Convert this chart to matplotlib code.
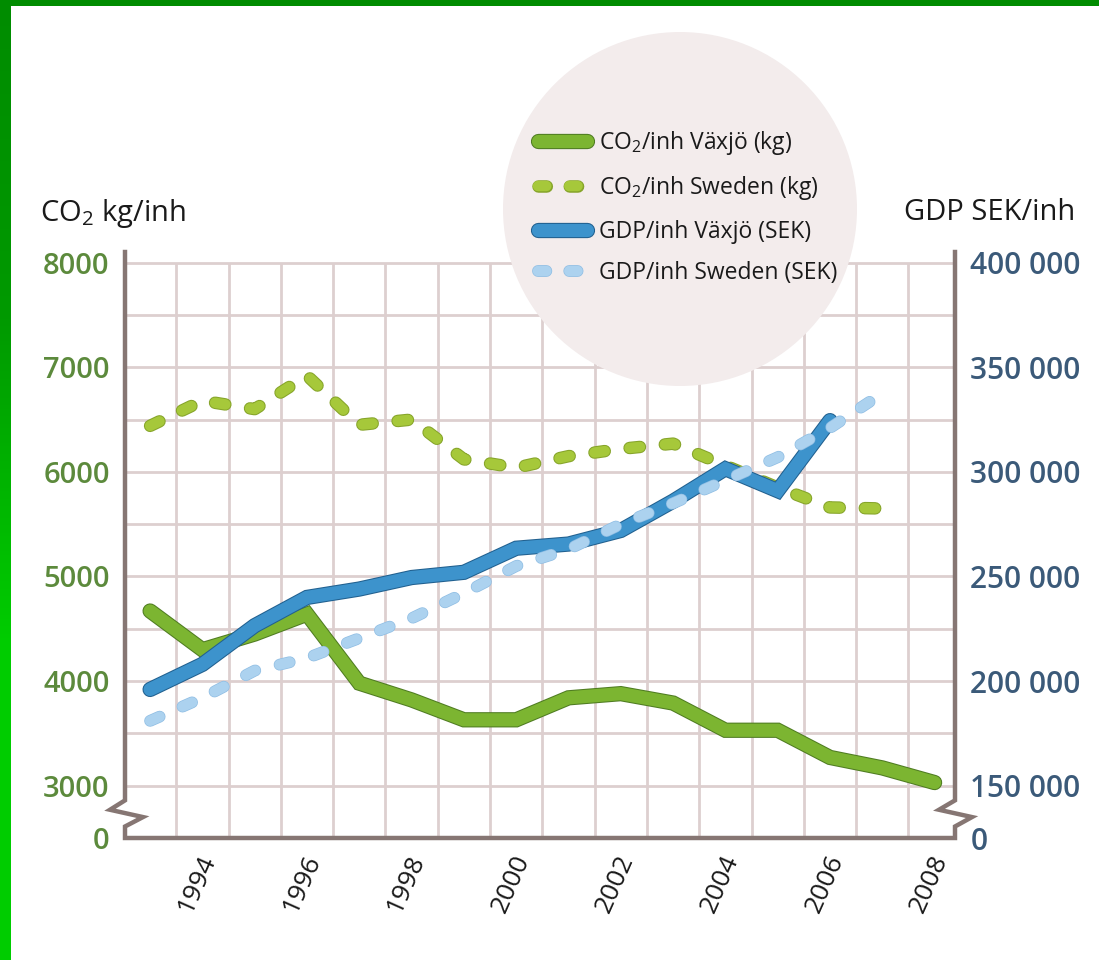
import numpy as np
import matplotlib
matplotlib.use("Agg")
import matplotlib.pyplot as plt
import matplotlib.transforms as mtrans
from matplotlib import patheffects as pe
from matplotlib.patches import Ellipse
from matplotlib.lines import Line2D
from matplotlib.colors import LinearSegmentedColormap

# ---------------- data ----------------
years_co2_vaxjo = list(range(1993, 2009))
co2_vaxjo = [4670, 4300, 4450, 4640, 3980, 3820, 3630, 3630, 3840, 3880,
             3790, 3530, 3530, 3270, 3170, 3030]

years_co2_sweden = list(range(1993, 2008))
co2_sweden = [6440, 6680, 6600, 6920, 6450, 6500, 6120, 6040, 6150, 6220,
              6270, 6060, 5850, 5660, 5650]

years_gdp_vaxjo = list(range(1993, 2007))
gdp_vaxjo = [196000, 208000, 226500, 240000, 244000, 249500, 252000, 263500,
             265500, 272000, 286000, 301500, 291000, 324500]

years_gdp_sweden = list(range(1993, 2008))
gdp_sweden = [181000, 192000, 205000, 211000, 220500, 230000, 242000, 255000,
              263000, 275000, 285000, 296000, 307000, 321000, 337500]

left_ticks = [2500, 3000, 4000, 5000, 6000, 7000, 8000]
left_ticklabels = ["0", "3000", "4000", "5000", "6000", "7000", "8000"]
right_ticks = [125000, 150000, 200000, 250000, 300000, 350000, 400000]
right_ticklabels = ["0", "150 000", "200 000", "250 000", "300 000", "350 000", "400 000"]
year_ticks = [1994, 1996, 1998, 2000, 2002, 2004, 2006, 2008]

labels = ["CO$_\\mathregular{2}$/inh Växjö (kg)",
          "CO$_\\mathregular{2}$/inh Sweden (kg)",
          "GDP/inh Växjö (SEK)",
          "GDP/inh Sweden (SEK)"]

# ---------------- style ----------------
plt.rcParams["font.family"] = ["Open Sans", "DejaVu Sans"]
plt.rcParams["mathtext.fontset"] = "custom"
plt.rcParams["mathtext.rm"] = "Open Sans"
plt.rcParams["mathtext.it"] = "Open Sans"

W, H = 1099, 960
fig = plt.figure(figsize=(W / 100, H / 100), dpi=100)
fig.patch.set_facecolor("white")

c_green = "#7cb531"
c_green_edge = "#4f7c22"
c_green_d = "#a6c83a"
c_green_d_edge = "#86a42a"
c_blue = "#3d93cc"
c_blue_edge = "#21608f"
c_lblue = "#acd2ef"
c_lblue_edge = "#8fbde3"
grid_c = "#ddcfcf"
spine_c = "#867673"

ax = fig.add_axes([125 / W, 122 / H, 830 / W, 586 / H])
ax.set_xlim(1992.52, 2008.39)
ax.set_ylim(2500, 8102)
ax2 = ax.twinx()
ax2.set_ylim(125000, 405100)

for a in (ax, ax2):
    for s in a.spines.values():
        s.set_visible(False)
    a.patch.set_visible(False)

# grid
ax.hlines(np.arange(3000, 8001, 500), 1992.52, 2008.39, color=grid_c, lw=2.0, zorder=1)
ax.vlines(np.arange(1993.5, 2008, 1.0), 2500, 8000, color=grid_c, lw=2.0, zorder=1)

# legend circle (background bubble)
circ = Ellipse((680 / W, 1 - 209 / H), 2 * 177 / W, 2 * 177 / H,
               transform=fig.transFigure, facecolor="#f3ecec", edgecolor="none",
               zorder=1.5, clip_on=False)
ax.add_artist(circ)

# spines with break marks (decoration)
tr = ax.get_yaxis_transform()
dx = 1.0 / 830
spine = Line2D([0, 0, -15 * dx, 18 * dx, 0, 0, 1, 1, 1 + 17 * dx, 1 - 16 * dx, 1, 1],
               [8102, 2860, 2770, 2700, 2610, 2500, 2500, 2610, 2700, 2770, 2860, 8102],
               transform=tr, color=spine_c, lw=3.2, solid_joinstyle="miter",
               clip_on=False, zorder=5)
ax.add_line(spine)

# lines
ax.plot(years_co2_sweden, co2_sweden, color=c_green_d, lw=7.5,
        dashes=(1.0, 2.4), dash_capstyle="round", zorder=3,
        path_effects=[pe.Stroke(linewidth=9, foreground=c_green_d_edge), pe.Normal()])
ax.plot(years_co2_vaxjo, co2_vaxjo, color=c_green, lw=9.5,
        solid_capstyle="round", solid_joinstyle="miter", zorder=4,
        path_effects=[pe.Stroke(linewidth=11, foreground=c_green_edge), pe.Normal()])
ax2.plot(years_gdp_vaxjo, gdp_vaxjo, color=c_blue, lw=9.5,
         solid_capstyle="round", solid_joinstyle="miter", zorder=4,
         path_effects=[pe.Stroke(linewidth=11, foreground=c_blue_edge), pe.Normal()])
ax2.plot(years_gdp_sweden, gdp_sweden, color=c_lblue, lw=7.5,
         dashes=(1.0, 2.4), dash_capstyle="round", zorder=5,
         path_effects=[pe.Stroke(linewidth=8.5, foreground=c_lblue_edge), pe.Normal()])

# ticks
ax.set_yticks(left_ticks)
ax.set_yticklabels(left_ticklabels)
ax.tick_params(axis="y", length=0, pad=11, labelsize=21, labelcolor="#5c8a3c")
for t in ax.get_yticklabels():
    t.set_fontweight("semibold")
ax2.set_yticks(right_ticks)
ax2.set_yticklabels(right_ticklabels)
ax2.tick_params(axis="y", length=0, pad=11, labelsize=21.5, labelcolor="#3b5a79")
for t in ax2.get_yticklabels():
    t.set_fontweight("semibold")

ax.set_xticks(year_ticks)
ax.set_xticklabels([str(y) for y in year_ticks], rotation=66, ha="right",
                   va="center", rotation_mode="anchor")
ax.tick_params(axis="x", length=0, pad=13, labelsize=19, labelcolor="#1a1a1a")
shift = mtrans.ScaledTranslation(7 / 100, 0, fig.dpi_scale_trans)
for t in ax.get_xticklabels():
    t.set_transform(t.get_transform() + shift)

# axis titles
fig.text(40 / W, 1 - 213 / H, "CO$_\\mathregular{2}$ kg/inh", fontsize=21,
         color="#1a1a1a", ha="left", va="center")
fig.text(1075 / W, 1 - 213 / H, "GDP SEK/inh", fontsize=21,
         color="#1a1a1a", ha="right", va="center")

# legend
handles = [
    Line2D([], [], color=c_green, lw=9.5, solid_capstyle="round",
           path_effects=[pe.Stroke(linewidth=11, foreground=c_green_edge), pe.Normal()]),
    Line2D([], [], color=c_green_d, lw=7.5, dashes=(0.8, 2.2), dash_capstyle="round",
           path_effects=[pe.Stroke(linewidth=9, foreground=c_green_d_edge), pe.Normal()]),
    Line2D([], [], color=c_blue, lw=9.5, solid_capstyle="round",
           path_effects=[pe.Stroke(linewidth=11, foreground=c_blue_edge), pe.Normal()]),
    Line2D([], [], color=c_lblue, lw=7.5, dashes=(0.8, 2.2), dash_capstyle="round",
           path_effects=[pe.Stroke(linewidth=8.5, foreground=c_lblue_edge), pe.Normal()]),
]
leg = fig.legend(handles, labels, loc="upper left",
                 bbox_to_anchor=(538 / W, 1 - 129 / H), frameon=False,
                 fontsize=16.5, handlelength=2.15, handletextpad=0.5,
                 labelspacing=0.76, borderpad=0, borderaxespad=0)
for t in leg.get_texts():
    t.set_color("#1a1a1a")

# page border
top_bar = fig.add_axes([0, 1 - 6 / H, 1, 6 / H])
top_bar.set_facecolor("#008c00")
top_bar.set_xticks([]); top_bar.set_yticks([])
for s in top_bar.spines.values():
    s.set_visible(False)
left_bar = fig.add_axes([0, 0, 11 / W, 1])
grad = np.linspace(0, 1, 256).reshape(-1, 1)
cm = LinearSegmentedColormap.from_list("g", ["#00cc00", "#00cc00", "#009a00", "#008c00"])
left_bar.imshow(grad, aspect="auto", cmap=cm, origin="lower", extent=(0, 1, 0, 1))
left_bar.set_axis_off()

fig.savefig("out.png", dpi=100)
